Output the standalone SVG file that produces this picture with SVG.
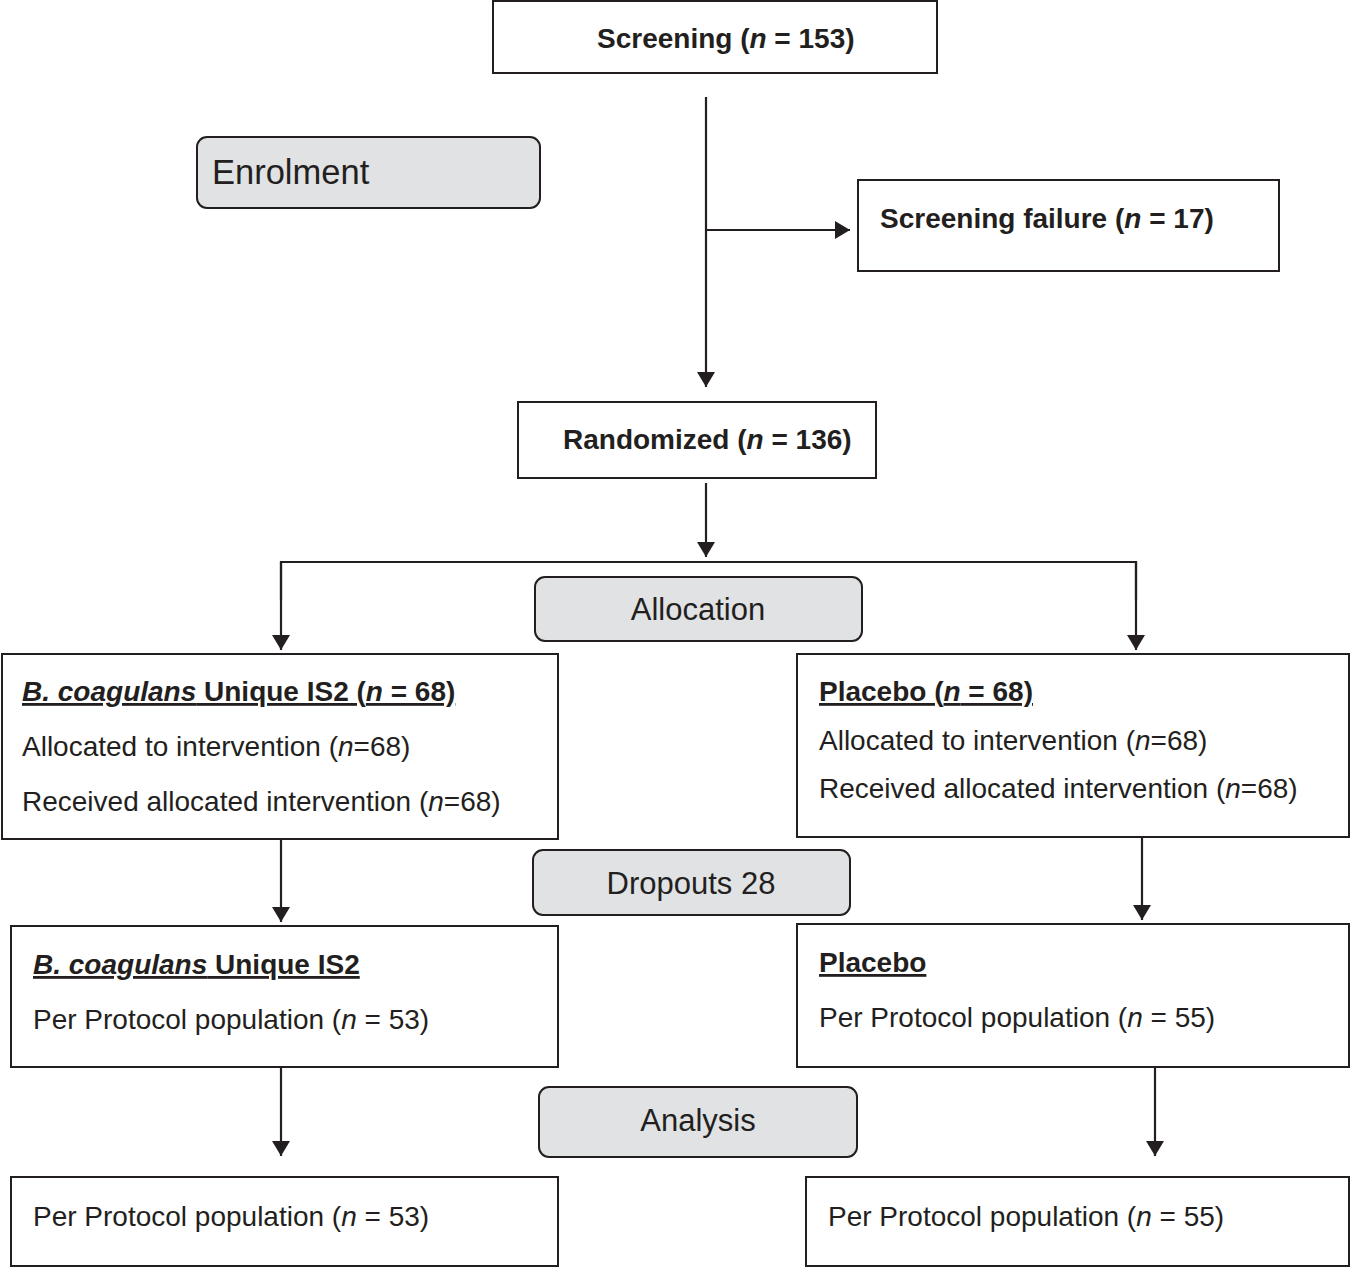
<svg xmlns="http://www.w3.org/2000/svg" width="1350" height="1268" viewBox="0 0 1350 1268">
<style>
.box{fill:#fff;stroke:#231f20;stroke-width:2}
.lbl{fill:#e1e2e4;stroke:#231f20;stroke-width:2}
.t{font-family:"Liberation Sans",Arial,sans-serif;font-size:28px;fill:#231f20}
.b{font-weight:bold}
.lt{font-family:"Liberation Sans",Arial,sans-serif;font-size:31px;fill:#231f20}
.c{stroke:#231f20;stroke-width:2.2;fill:none}
</style>
<defs>
<marker id="ah" viewBox="0 0 15 18" refX="15" refY="9" markerWidth="15" markerHeight="18" markerUnits="userSpaceOnUse" orient="auto">
<path d="M0,0 L15,9 L0,18 Z" fill="#231f20"/>
</marker>
</defs>
<g id="connectors">
<line class="c" x1="706" y1="97" x2="706" y2="387" marker-end="url(#ah)"/>
<line class="c" x1="706" y1="230" x2="850" y2="230" marker-end="url(#ah)"/>
<line class="c" x1="706" y1="483" x2="706" y2="557" marker-end="url(#ah)"/>
<polyline class="c" points="281,600 281,562 1136,562 1136,600"/>
<line class="c" x1="281" y1="562" x2="281" y2="650" marker-end="url(#ah)"/>
<line class="c" x1="1136" y1="562" x2="1136" y2="650" marker-end="url(#ah)"/>
<line class="c" x1="281" y1="839" x2="281" y2="922" marker-end="url(#ah)"/>
<line class="c" x1="1142" y1="837" x2="1142" y2="920" marker-end="url(#ah)"/>
<line class="c" x1="281" y1="1067" x2="281" y2="1156" marker-end="url(#ah)"/>
<line class="c" x1="1155" y1="1068" x2="1155" y2="1156" marker-end="url(#ah)"/>
</g>
<g id="screening">
<rect class="box" x="493" y="1" width="444" height="72"/>
<text class="t b" x="597" y="48">Screening (<tspan font-style="italic">n</tspan> = 153)</text>
</g>
<g id="enrolment">
<rect class="lbl" x="197" y="137" width="343" height="71" rx="10"/>
<text class="lt" x="212" y="184" style="font-size:34.5px">Enrolment</text>
</g>
<g id="screening-failure">
<rect class="box" x="858" y="180" width="421" height="91"/>
<text class="t b" x="880" y="228">Screening failure (<tspan font-style="italic">n</tspan> = 17)</text>
</g>
<g id="randomized">
<rect class="box" x="518" y="402" width="358" height="76"/>
<text class="t b" x="563" y="449">Randomized (<tspan font-style="italic">n</tspan> = 136)</text>
</g>
<g id="allocation">
<rect class="lbl" x="535" y="577" width="327" height="64" rx="10"/>
<text class="lt" x="698" y="620" text-anchor="middle">Allocation</text>
</g>
<g id="bc-alloc">
<rect class="box" x="2" y="654" width="556" height="185"/>
<text class="t b" x="22" y="701" text-decoration="underline"><tspan font-style="italic">B. coagulans</tspan> Unique IS2 (<tspan font-style="italic">n</tspan> = 68)</text>
<text class="t" x="22" y="756">Allocated to intervention (<tspan font-style="italic">n</tspan>=68)</text>
<text class="t" x="22" y="811">Received allocated intervention (<tspan font-style="italic">n</tspan>=68)</text>
</g>
<g id="placebo-alloc">
<rect class="box" x="797" y="654" width="552" height="183"/>
<text class="t b" x="819" y="701" text-decoration="underline">Placebo (<tspan font-style="italic">n</tspan> = 68)</text>
<text class="t" x="819" y="750">Allocated to intervention (<tspan font-style="italic">n</tspan>=68)</text>
<text class="t" x="819" y="798">Received allocated intervention (<tspan font-style="italic">n</tspan>=68)</text>
</g>
<g id="dropouts">
<rect class="lbl" x="533" y="850" width="317" height="65" rx="10"/>
<text class="lt" x="691" y="894" text-anchor="middle">Dropouts 28</text>
</g>
<g id="bc-pp">
<rect class="box" x="11" y="926" width="547" height="141"/>
<text class="t b" x="33" y="974" text-decoration="underline"><tspan font-style="italic">B. coagulans</tspan> Unique IS2</text>
<text class="t" x="33" y="1029">Per Protocol population (<tspan font-style="italic">n</tspan> = 53)</text>
</g>
<g id="placebo-pp">
<rect class="box" x="797" y="924" width="552" height="143"/>
<text class="t b" x="819" y="972" text-decoration="underline">Placebo</text>
<text class="t" x="819" y="1027">Per Protocol population (<tspan font-style="italic">n</tspan> = 55)</text>
</g>
<g id="analysis">
<rect class="lbl" x="539" y="1087" width="318" height="70" rx="10"/>
<text class="lt" x="698" y="1131" text-anchor="middle">Analysis</text>
</g>
<g id="bc-analysis">
<rect class="box" x="11" y="1177" width="547" height="89"/>
<text class="t" x="33" y="1226">Per Protocol population (<tspan font-style="italic">n</tspan> = 53)</text>
</g>
<g id="placebo-analysis">
<rect class="box" x="806" y="1177" width="543" height="89"/>
<text class="t" x="828" y="1226">Per Protocol population (<tspan font-style="italic">n</tspan> = 55)</text>
</g>
</svg>
